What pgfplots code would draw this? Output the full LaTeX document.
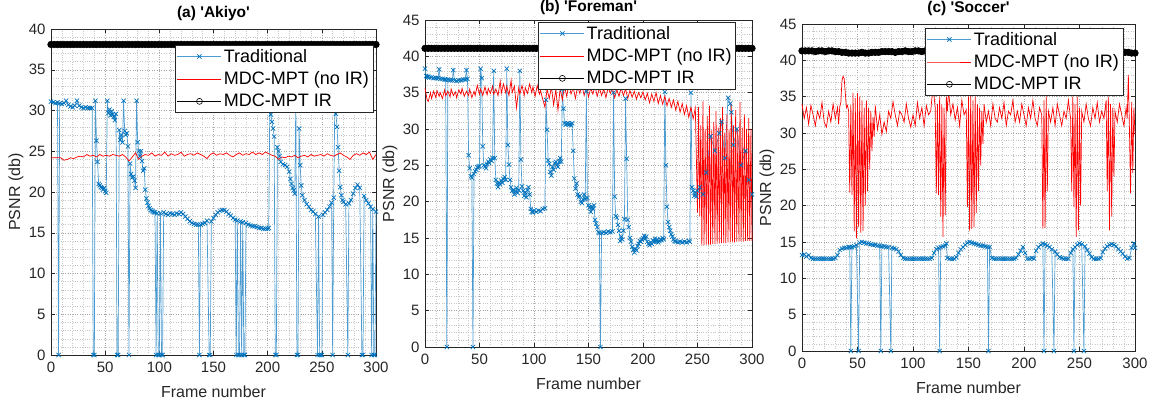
\documentclass[border=0pt]{standalone}
\usepackage{fontspec}
\setmainfont{Liberation Sans}
\usepackage{pgfplots}
\pgfplotsset{compat=1.18}
\definecolor{mblue}{RGB}{0,114,189}
\definecolor{axgray}{RGB}{38,38,38}
\pgfplotsset{
  psnr/.style={
    scale only axis, clip=false,
    xmin=0, xmax=300, ymin=0,
    xtick={0,50,...,300},
    minor x tick num=4, minor y tick num=4,
    grid=both,
    major grid style={dotted, gray!70, line width=0.4pt},
    minor grid style={dotted, gray!45, line width=0.4pt},
    tick align=inside,
    major tick length=4pt, minor tick length=0pt,
    axis line style={axgray, line width=0.5pt},
    tick style={axgray, line width=0.5pt},
    ticklabel style={font=\fontsize{15}{15}\selectfont, text=axgray},
    xticklabel style={yshift=-3pt},
    yticklabel style={xshift=-2pt},
    /pgf/number format/assume math mode=true,
    xlabel={Frame number}, ylabel={PSNR (db)},
    label style={font=\fontsize{16}{16}\selectfont, text=axgray},
    xlabel style={at={(axis description cs:0.5,0)}, anchor=center, yshift=-36.5pt},
    ylabel style={at={(axis description cs:0,0.5)}, anchor=center, yshift=35pt},
    title style={font=\bfseries\fontsize{15.5}{15.5}\selectfont, at={(axis description cs:0.5,1)}, anchor=base, yshift=5.5pt},
    legend cell align=left,
    legend style={font=\fontsize{18}{20}\selectfont, draw=axgray, line width=0.5pt, fill=white, inner sep=2pt, row sep=4pt, anchor=north east},
    legend image code/.code={\draw[mark repeat=2,mark phase=2,#1] plot coordinates {(0pt,0pt) (22pt,0pt) (44pt,0pt)};},
  },
  trad/.style={color=mblue!70, line width=0.7pt, mark=x, mark size=3pt, mark options={mblue, solid, line width=0.7pt}},
  noir/.style={color=red, line width=0.7pt},
  ir/.style={color=black, line width=0.6pt, mark=*, mark size=3.3pt, mark options={fill=black}},
}
\begin{document}
\begin{tikzpicture}
\useasboundingbox (0pt,0pt) rectangle (1152pt,402pt);
% ---------------- (a) Akiyo ----------------
\begin{axis}[psnr, at={(51pt,47pt)}, anchor=south west, width=325pt, height=326pt,
  ymax=40, ytick={0,5,...,40}, title={(a) \textquotesingle Akiyo\textquotesingle},
  legend style={at={(0.991,0.951)}}]
\addplot[trad, forget plot] coordinates {(0,31.1)(2,31.0)(4,30.9)(6,31.0)(7,0)(8,30.9)(10,30.8)(12,30.9)(14,31.2)(16,30.7)(18,30.5)(20,30.4)(22,30.6)(24,31.2)(26,30.6)(28,30.4)(30,30.3)(32,30.4)(34,30.3)(36,30.3)(38,30.3)(39,0)(40,0)(41,31.2)(42,26.3)(43,23.7)(44,21.0)(45,20.8)(46,20.6)(47,20.5)(48,20.3)(49,20.5)(50,20.1)(51,19.9)(52,31.2)(53,29.7)(54,30.1)(55,29.4)(56,29.9)(57,29.5)(58,29.2)(59,28.8)(60,29.6)(61,0)(62,0)(63,27.6)(64,26.4)(65,27.0)(66,26.1)(67,31.2)(68,27.5)(69,27.0)(70,27.2)(71,25.6)(72,0)(73,23.5)(74,22.2)(75,21.8)(76,21.9)(77,21.4)(78,20.5)(79,31.2)(80,26.1)(81,25.0)(82,24.4)(83,25.0)(84,23.8)(85,22.6)(86,22.9)(87,20.3)(88,19.2)(89,18.7)(90,18.3)(91,18.0)(92,17.8)(93,17.7)(94,17.6)(95,17.5)(96,17.5)(97,0)(98,17.4)(99,0)(100,0)(101,17.4)(102,0)(103,0)(104,17.5)(106,17.3)(108,17.2)(110,17.4)(112,17.3)(114,17.2)(116,17.4)(118,17.3)(120,17.5)(122,17.3)(124,17.0)(126,16.7)(128,16.4)(130,16.2)(132,16.1)(134,16.0)(136,16.0)(137,0)(138,16.0)(140,16.1)(142,16.2)(144,16.5)(146,0)(147,0)(148,16.4)(150,16.8)(152,17.2)(154,17.5)(156,17.7)(158,17.8)(160,17.8)(162,17.6)(164,17.3)(166,17.1)(168,16.8)(170,16.6)(171,0)(172,16.5)(173,0)(174,0)(175,16.4)(176,0)(177,16.3)(178,0)(179,0)(180,16.2)(182,16.0)(184,15.9)(186,15.8)(188,15.8)(190,15.7)(192,15.6)(194,15.6)(196,15.5)(198,15.5)(200,15.5)(201,15.6)(202,31.2)(203,29.5)(204,28.6)(205,27.8)(206,26.8)(207,0)(208,0)(209,25.5)(210,25.0)(211,24.4)(212,23.7)(214,23.4)(216,23.3)(218,23.1)(220,22.5)(221,21.6)(222,21.0)(223,20.5)(224,20.2)(225,19.8)(226,31.2)(227,0)(228,0)(229,27.8)(230,23.3)(231,20.8)(232,19.6)(234,19.0)(236,18.5)(238,18.2)(240,17.8)(242,17.6)(244,17.3)(246,0)(247,17.0)(248,0)(249,0)(250,0)(251,17.2)(253,17.5)(255,17.8)(257,18.2)(259,18.7)(260,0)(261,19.3)(262,31.2)(263,29.6)(264,28.0)(265,25.5)(266,22.6)(267,20.6)(268,19.6)(269,19.0)(270,18.8)(272,18.5)(274,0)(275,18.6)(277,19.0)(279,19.8)(281,20.5)(283,20.9)(285,20.5)(287,0)(288,0)(289,19.5)(291,19.0)(293,18.6)(295,18.2)(296,0)(297,17.9)(298,0)(299,0)(300,17.6)};
\addplot[noir, forget plot] coordinates {(0,24.2)(3,24.2)(6,24.2)(9,24.2)(12,23.9)(15,24.0)(18,24.2)(21,24.1)(24,24.3)(27,24.4)(30,24.3)(33,24.6)(36,24.4)(39,24.5)(42,24.3)(45,24.6)(48,24.4)(51,24.5)(54,24.4)(57,24.6)(60,24.5)(63,24.4)(66,24.6)(69,24.3)(72,23.8)(75,24.3)(78,24.8)(81,24.0)(84,24.4)(87,24.6)(90,24.5)(93,24.8)(96,24.4)(99,24.6)(102,24.5)(105,24.9)(108,24.4)(111,24.7)(114,24.5)(117,24.6)(120,24.9)(123,24.4)(126,24.6)(129,24.7)(132,24.5)(135,24.8)(138,24.6)(141,24.4)(144,24.1)(147,24.6)(150,24.8)(153,24.5)(156,24.7)(159,24.6)(162,24.8)(165,24.5)(168,24.3)(171,24.6)(174,24.8)(177,24.5)(180,24.7)(183,24.6)(186,24.9)(189,24.6)(192,24.8)(195,24.6)(198,24.9)(201,24.7)(204,24.5)(207,24.4)(210,24.0)(213,24.3)(216,24.2)(219,24.4)(222,24.3)(225,24.5)(228,24.2)(231,24.4)(234,24.5)(237,24.3)(240,24.6)(243,24.4)(246,24.5)(249,24.6)(252,24.4)(255,24.7)(258,24.5)(261,24.4)(264,24.6)(267,24.8)(270,24.5)(273,24.3)(276,24.0)(279,24.5)(282,24.7)(285,24.5)(288,24.8)(291,24.6)(294,24.9)(297,24.0)(300,24.6)};
\addplot[ir, forget plot] coordinates {(0,38.1)(3,38.1)(6,38.1)(9,38.1)(12,38.1)(15,38.1)(18,38.1)(21,38.1)(24,38.1)(27,38.1)(30,38.1)(33,38.1)(36,38.1)(39,38.1)(42,38.1)(45,38.1)(48,38.1)(51,38.1)(54,38.1)(57,38.1)(60,38.1)(63,38.1)(66,38.1)(69,38.1)(72,38.1)(75,38.1)(78,38.1)(81,38.1)(84,38.1)(87,38.1)(90,38.1)(93,38.1)(96,38.1)(99,38.1)(102,38.1)(105,38.1)(108,38.1)(111,38.1)(114,38.1)(117,38.1)(120,38.1)(123,38.1)(126,38.1)(129,38.1)(132,38.1)(135,38.1)(138,38.1)(141,38.1)(144,38.1)(147,38.1)(150,38.1)(153,38.1)(156,38.1)(159,38.1)(162,38.1)(165,38.1)(168,38.1)(171,38.1)(174,38.1)(177,38.1)(180,38.1)(183,38.1)(186,38.1)(189,38.1)(192,38.1)(195,38.1)(198,38.1)(201,38.1)(204,38.1)(207,38.1)(210,38.1)(213,38.1)(216,38.1)(219,38.1)(222,38.1)(225,38.1)(228,38.1)(231,38.1)(234,38.1)(237,38.1)(240,38.1)(243,38.1)(246,38.1)(249,38.1)(252,38.1)(255,38.1)(258,38.1)(261,38.1)(264,38.1)(267,38.1)(270,38.1)(273,38.1)(276,38.1)(279,38.1)(282,38.1)(285,38.1)(288,38.1)(291,38.1)(294,38.1)(297,38.1)(300,38.1)};
\addlegendimage{trad}
\addlegendimage{noir}
\addlegendimage{color=black, line width=0.6pt, mark=o, mark size=3pt}
\legend{Traditional, MDC-MPT (no IR), MDC-MPT IR}
\end{axis}
% ---------------- (b) Foreman ----------------
\begin{axis}[psnr, at={(425pt,55pt)}, anchor=south west, width=327pt, height=327pt,
  ymax=45, ytick={0,5,...,45}, title={(b) \textquotesingle Foreman\textquotesingle},
  title style={yshift=-3pt},
  legend style={at={(0.951,0.994)}}]
\addplot[trad, forget plot] coordinates {(0,38.3)(1,37.3)(2,37.2)(3,37.2)(4,37.1)(6,37.1)(8,37.0)(10,37.0)(12,37.0)(13,38.2)(14,36.9)(16,36.9)(18,36.8)(19,36.8)(20,0)(21,36.8)(23,36.7)(25,36.7)(26,38.1)(27,36.7)(29,36.6)(31,36.7)(33,36.7)(35,36.8)(37,36.8)(38,38.1)(39,36.9)(40,26.4)(41,24.6)(42,23.5)(43,23.3)(44,0)(45,23.8)(46,24.2)(47,24.4)(48,24.7)(49,24.8)(50,24.9)(51,38.3)(52,37.0)(53,27.6)(54,25.0)(55,24.8)(56,24.6)(57,25.2)(58,25.5)(59,25.3)(60,25.8)(61,25.6)(62,26.0)(63,38.0)(64,26.0)(65,23.0)(66,22.5)(67,22.0)(68,22.6)(69,22.4)(70,22.9)(71,22.6)(72,23.1)(73,23.4)(74,23.0)(75,38.3)(76,27.8)(77,25.1)(78,23.0)(79,22.0)(80,21.5)(81,21.6)(82,21.0)(83,21.4)(84,21.9)(85,21.2)(86,21.6)(87,38.0)(88,25.8)(89,22.1)(90,21.5)(91,20.8)(92,21.3)(93,20.6)(94,21.6)(95,22.0)(96,21.0)(97,19.0)(98,18.6)(99,18.5)(100,18.8)(102,18.6)(104,18.8)(106,18.7)(108,19.0)(110,19.1)(111,34.0)(112,29.9)(113,25.7)(114,25.2)(115,24.1)(116,23.6)(117,24.8)(118,24.4)(119,25.3)(120,25.5)(121,25.0)(122,24.8)(123,25.5)(124,26.0)(125,25.5)(126,35.5)(127,32.8)(128,30.8)(129,30.6)(130,30.7)(131,30.8)(132,30.6)(133,30.7)(134,30.5)(135,30.8)(136,27.0)(137,23.2)(138,21.8)(139,22.5)(140,21.0)(141,20.6)(142,20.8)(143,20.0)(144,19.8)(145,20.3)(146,21.0)(147,20.4)(148,35.2)(149,20.5)(150,19.5)(151,19.2)(152,18.6)(153,19.3)(154,19.0)(155,19.5)(156,17.5)(157,17.0)(158,16.5)(159,15.8)(160,15.7)(161,0)(162,15.7)(164,15.8)(166,15.7)(168,15.9)(170,15.8)(172,15.9)(173,35.0)(174,20.7)(175,18.0)(176,17.8)(177,16.8)(178,16.0)(179,14.6)(180,15.2)(181,14.8)(182,16.0)(183,17.6)(184,34.2)(185,25.9)(186,17.5)(187,16.5)(188,15.0)(189,14.5)(190,13.8)(191,13.4)(192,13.0)(193,13.5)(194,13.3)(195,13.9)(196,14.2)(197,14.6)(198,14.5)(199,14.8)(200,15.0)(201,15.3)(202,14.9)(203,15.2)(204,14.5)(205,14.2)(206,14.0)(207,14.4)(208,14.2)(209,14.7)(210,14.5)(211,14.9)(212,14.5)(213,14.8)(214,14.4)(215,14.6)(216,14.8)(217,14.7)(218,15.0)(219,14.8)(220,35.1)(221,25.0)(222,19.3)(223,17.2)(224,16.5)(225,16.0)(226,15.5)(227,15.2)(228,14.8)(229,14.6)(230,14.5)(232,14.4)(234,14.5)(236,14.4)(238,14.5)(240,14.4)(242,14.6)(243,14.5)(244,35.0)(245,22.0)(246,21.5)(247,20.8)(248,21.3)(249,20.7)(250,21.5)(252,22.0)(255,21.0)(258,24.0)(262,29.0)(266,27.0)(270,29.4)(272,31.0)(275,26.0)(278,34.3)(280,33.5)(281,32.3)(283,27.8)(286,30.0)(290,25.0)(294,27.0)(297,23.0)(300,21.0)};
\addplot[noir, forget plot] coordinates {(0,35.6)(2,34.0)(3,33.8)(5,35.0)(6,34.2)(8,35.2)(10,34.3)(11,35.3)(13,34.5)(14,35.0)(16,34.2)(18,35.4)(19,34.6)(21,35.2)(23,34.4)(24,35.5)(26,34.6)(28,35.1)(29,34.3)(31,35.4)(33,34.8)(34,35.6)(36,34.5)(38,35.2)(40,34.6)(41,35.5)(43,34.3)(45,35.2)(46,34.6)(48,36.0)(50,34.8)(51,35.5)(53,34.6)(55,35.8)(57,34.7)(58,35.6)(60,34.9)(62,35.9)(63,34.8)(65,35.5)(67,34.6)(69,36.6)(70,34.9)(72,36.2)(74,35.0)(75,35.9)(77,34.6)(79,36.7)(80,35.0)(82,35.9)(84,32.9)(86,35.7)(87,34.8)(89,36.0)(91,34.6)(92,35.7)(94,34.9)(96,36.2)(98,35.0)(99,35.8)(101,34.5)(103,36.0)(105,34.8)(106,35.3)(108,34.1)(110,33.0)(112,35.5)(114,34.2)(116,35.8)(118,33.3)(120,35.4)(122,32.6)(124,35.6)(126,34.0)(128,35.9)(130,34.5)(132,36.1)(134,34.8)(136,35.7)(138,34.2)(140,35.9)(142,34.9)(144,36.0)(146,34.6)(148,35.8)(150,34.4)(152,35.6)(154,34.8)(156,35.9)(158,34.5)(160,35.7)(162,34.6)(164,35.5)(166,34.3)(168,35.8)(170,34.9)(172,35.6)(174,34.3)(176,35.4)(178,34.5)(180,35.7)(182,34.6)(184,35.5)(186,34.2)(188,35.3)(190,34.4)(192,35.2)(194,34.1)(196,35.0)(198,34.3)(200,35.1)(202,34.0)(204,34.9)(206,33.6)(208,34.8)(210,33.8)(212,35.0)(214,33.5)(216,34.6)(218,33.4)(220,34.5)(222,33.2)(224,34.2)(226,33.0)(228,34.0)(230,32.6)(232,33.8)(234,32.3)(236,33.5)(238,32.0)(240,33.2)(242,31.6)(244,33.0)(246,31.4)(248,32.9)(250,18.5)(251,33.0)(252,18.0)(253,30.5)(254,14.0)(255,33.8)(256,14.0)(257,30.0)(258,14.1)(259,31.8)(260,14.1)(261,33.2)(262,14.1)(263,29.8)(264,14.2)(265,31.0)(266,14.2)(267,32.5)(268,14.2)(269,30.2)(270,14.3)(271,31.5)(272,14.3)(273,33.0)(274,14.3)(275,29.5)(276,14.3)(277,32.0)(278,14.4)(279,30.0)(280,14.4)(281,33.5)(282,14.4)(283,30.5)(284,14.4)(285,32.6)(286,14.5)(287,30.0)(288,14.5)(289,33.7)(290,14.5)(291,30.2)(292,14.5)(293,32.0)(294,14.6)(295,30.0)(296,14.6)(297,31.5)(298,14.6)(299,30.0)(300,14.6)};
\addplot[ir, forget plot] coordinates {(0,41.1)(3,41.1)(6,41.1)(9,41.1)(12,41.1)(15,41.1)(18,41.1)(21,41.1)(24,41.1)(27,41.1)(30,41.1)(33,41.1)(36,41.1)(39,41.1)(42,41.1)(45,41.1)(48,41.1)(51,41.1)(54,41.1)(57,41.1)(60,41.1)(63,41.1)(66,41.1)(69,41.1)(72,41.1)(75,41.1)(78,41.1)(81,41.1)(84,41.1)(87,41.1)(90,41.1)(93,41.1)(96,41.1)(99,41.1)(102,41.1)(105,41.1)(108,41.1)(111,41.1)(114,41.1)(117,41.1)(120,41.1)(123,41.1)(126,41.1)(129,41.1)(132,41.1)(135,41.1)(138,41.1)(141,41.1)(144,41.1)(147,41.1)(150,41.1)(153,41.1)(156,41.1)(159,41.1)(162,41.1)(165,41.1)(168,41.1)(171,41.1)(174,41.1)(177,41.1)(180,41.1)(183,41.1)(186,41.1)(189,41.1)(192,41.1)(195,41.1)(198,41.1)(201,41.1)(204,41.1)(207,41.1)(210,41.1)(213,41.1)(216,41.1)(219,41.1)(222,41.1)(225,41.1)(228,41.1)(231,41.1)(234,41.1)(237,41.1)(240,41.1)(243,41.1)(246,41.1)(249,41.1)(252,41.1)(255,41.1)(258,41.1)(261,41.1)(264,41.1)(267,41.1)(270,41.1)(273,41.1)(276,41.1)(279,41.1)(282,41.1)(285,41.1)(288,41.1)(291,41.1)(294,41.1)(297,41.1)(300,41.1)};
\addlegendimage{trad}
\addlegendimage{noir}
\addlegendimage{color=black, line width=0.6pt, mark=o, mark size=3pt}
\legend{Traditional, MDC-MPT (no IR), MDC-MPT IR}
\end{axis}
% ---------------- (c) Soccer ----------------
\begin{axis}[psnr, at={(802pt,51pt)}, anchor=south west, width=333pt, height=327pt,
  ymax=45, ytick={0,5,...,45}, title={(c) \textquotesingle Soccer\textquotesingle},
  legend style={at={(0.964,0.988)}}]
\addplot[trad, forget plot] coordinates {(0,13.2)(2,13.3)(4,13.0)(6,13.2)(8,12.8)(10,12.7)(12,12.7)(14,12.7)(16,12.7)(18,12.7)(20,12.7)(22,12.7)(24,12.7)(26,12.7)(28,12.7)(30,12.8)(32,13.2)(34,13.9)(36,14.1)(38,14.2)(40,14.2)(42,14.3)(43,14.3)(44,0)(45,14.3)(47,14.4)(49,14.6)(51,0)(52,14.9)(54,15.0)(56,14.9)(58,14.8)(60,14.8)(62,14.7)(64,14.6)(66,14.6)(68,14.5)(70,14.5)(71,0)(72,14.4)(74,14.4)(76,14.3)(78,14.3)(80,0)(81,14.2)(83,14.1)(85,14.0)(87,13.7)(89,13.2)(91,12.8)(93,12.7)(95,12.7)(97,12.7)(99,12.7)(101,12.7)(103,12.7)(105,12.7)(107,12.7)(109,12.7)(111,12.7)(113,12.7)(115,12.7)(117,12.8)(119,13.5)(121,14.0)(123,14.2)(124,0)(125,14.3)(127,14.4)(129,14.5)(130,14.8)(131,12.8)(133,12.7)(135,12.7)(137,12.7)(139,12.9)(141,13.5)(143,14.0)(145,14.3)(147,14.6)(149,14.9)(151,15.0)(153,14.9)(155,14.8)(157,14.7)(159,14.6)(161,14.5)(163,14.5)(165,14.4)(167,14.3)(168,0)(169,14.3)(171,12.8)(173,12.7)(175,12.7)(177,12.7)(179,12.7)(181,12.7)(183,12.7)(185,12.7)(187,12.7)(189,12.7)(191,12.7)(193,12.8)(195,13.3)(197,13.8)(199,14.3)(201,13.5)(203,12.7)(205,12.7)(207,12.8)(209,12.7)(211,13.8)(213,14.3)(215,14.6)(217,14.8)(218,0)(219,14.7)(221,14.5)(223,14.3)(225,14.0)(227,0)(228,13.7)(230,13.3)(232,12.9)(234,12.8)(236,12.7)(238,12.7)(240,12.7)(242,13.5)(244,14.0)(245,0)(246,14.3)(248,14.6)(250,14.8)(252,14.7)(254,0)(255,14.4)(257,13.9)(259,13.4)(261,12.9)(263,12.7)(265,12.7)(267,12.7)(269,12.8)(271,13.6)(273,14.1)(275,14.4)(277,14.6)(279,14.7)(281,14.6)(283,14.4)(285,14.0)(287,13.7)(289,13.4)(291,13.0)(293,12.7)(295,12.8)(297,14.2)(299,14.8)(300,14.2)};
\addplot[noir, forget plot] coordinates {(0,34.0)(2,32.0)(4,33.5)(6,31.2)(8,33.8)(10,32.5)(12,31.0)(14,33.0)(16,32.0)(18,34.2)(20,31.5)(22,30.8)(24,33.0)(26,31.5)(28,34.0)(30,32.0)(32,33.5)(33,31.2)(34,33.6)(35,34.2)(36,37.2)(37,37.8)(38,37.5)(39,35.5)(40,33.5)(41,33.8)(42,33.0)(43,21.8)(44,33.8)(45,21.5)(46,35.5)(47,16.5)(48,34.8)(49,15.5)(50,35.5)(51,17.0)(52,35.0)(53,16.3)(54,34.5)(55,16.5)(56,33.5)(57,20.0)(58,34.5)(59,22.0)(60,33.5)(61,25.0)(62,33.0)(63,27.5)(64,32.2)(65,29.5)(66,33.8)(68,30.5)(70,32.5)(72,29.8)(74,31.5)(76,30.2)(78,33.0)(80,32.0)(82,34.3)(84,32.5)(86,31.0)(88,33.0)(90,32.5)(92,31.5)(94,34.0)(96,32.0)(98,30.8)(100,32.5)(102,31.0)(104,34.2)(106,32.0)(108,33.5)(110,31.0)(112,33.8)(114,32.5)(116,33.0)(118,36.5)(119,35.0)(120,33.5)(121,21.7)(122,34.0)(123,21.5)(124,35.0)(125,18.5)(126,34.0)(127,15.7)(128,33.5)(129,18.7)(130,35.0)(131,33.0)(132,36.0)(134,32.5)(136,34.0)(138,31.8)(140,33.5)(142,31.0)(144,34.5)(146,32.5)(148,33.2)(149,19.8)(150,35.0)(151,16.5)(152,35.5)(153,16.8)(154,34.5)(155,17.0)(156,35.0)(157,19.0)(158,34.0)(159,22.0)(160,33.5)(161,25.5)(162,33.0)(163,28.5)(164,34.0)(166,31.5)(168,33.0)(170,31.0)(172,34.0)(174,32.0)(176,31.5)(178,33.5)(180,32.0)(182,34.2)(184,31.0)(186,33.0)(188,32.5)(190,34.5)(192,31.5)(194,33.0)(196,31.5)(198,34.0)(200,32.5)(202,31.0)(204,33.5)(206,32.0)(208,34.5)(210,32.0)(212,31.0)(214,33.5)(216,32.5)(217,16.8)(218,34.5)(219,16.9)(220,35.0)(221,22.0)(222,33.0)(224,31.5)(226,33.5)(228,31.0)(230,34.0)(232,32.5)(234,31.0)(236,33.0)(238,32.0)(240,34.5)(242,32.0)(243,22.0)(244,35.0)(245,19.8)(246,34.0)(247,15.7)(248,35.0)(249,16.6)(250,33.5)(251,20.0)(252,33.0)(254,31.5)(256,34.0)(258,32.0)(260,31.0)(262,33.5)(264,32.0)(266,34.2)(268,31.5)(270,33.0)(272,32.0)(274,34.5)(275,22.0)(276,35.0)(277,16.6)(278,34.0)(279,18.5)(280,33.5)(281,24.0)(282,33.0)(284,31.5)(286,34.0)(288,32.5)(290,31.0)(292,33.5)(293,32.0)(294,38.0)(295,30.5)(296,21.7)(297,34.3)(298,24.5)(299,33.5)(300,29.8)};
\addplot[ir, forget plot] coordinates {(0,41.3)(3,41.3)(6,41.3)(9,41.3)(12,41.2)(15,41.3)(18,41.3)(21,41.2)(24,41.3)(27,41.3)(30,41.2)(33,41.2)(36,41.1)(39,41.1)(42,41.0)(45,41.0)(48,41.0)(51,41.0)(54,41.1)(57,41.0)(60,41.0)(63,41.1)(66,41.1)(69,41.1)(72,41.2)(75,41.2)(78,41.2)(81,41.2)(84,41.1)(87,41.2)(90,41.2)(93,41.3)(96,41.2)(99,41.2)(102,41.3)(105,41.3)(108,41.2)(111,41.3)(114,41.3)(117,41.3)(120,41.2)(123,41.3)(126,41.3)(129,41.2)(132,41.2)(135,41.2)(138,41.1)(141,41.2)(144,41.2)(147,41.1)(150,41.1)(153,41.1)(156,41.1)(159,41.1)(162,41.1)(165,41.2)(168,41.1)(171,41.1)(174,41.1)(177,41.2)(180,41.2)(183,41.1)(186,41.2)(189,41.2)(192,41.2)(195,41.2)(198,41.2)(201,41.1)(204,41.2)(207,41.2)(210,41.2)(213,41.3)(216,41.2)(219,41.2)(222,41.2)(225,41.3)(228,41.3)(231,41.2)(234,41.2)(237,41.2)(240,41.3)(243,41.2)(246,41.2)(249,41.3)(252,41.3)(255,41.3)(258,41.3)(261,41.2)(264,41.3)(267,41.3)(270,41.2)(273,41.2)(276,41.3)(279,41.3)(282,41.2)(285,41.2)(288,41.1)(291,41.1)(294,41.1)(297,41.0)(300,41.0)};
\addlegendimage{trad}
\addlegendimage{noir}
\addlegendimage{color=black, line width=0.6pt, mark=o, mark size=3pt}
\legend{Traditional, MDC-MPT (no IR), MDC-MPT IR}
\end{axis}
\end{tikzpicture}
\end{document}
